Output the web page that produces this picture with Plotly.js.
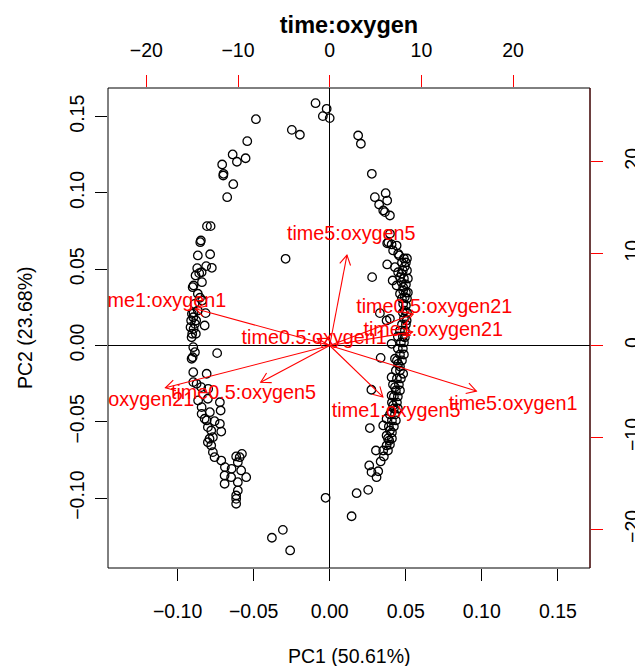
<!DOCTYPE html>
<html><head><meta charset="utf-8">
<script src="https://cdn.plot.ly/plotly-3.0.1.min.js"></script>
<style>html,body{margin:0;padding:0;background:#fff}#plot{width:635px;height:666px}</style>
</head><body><div id="plot"></div>
<script>
// Scores (PC1, PC2)
const pc1 = [
-0.0093,-0.0020,-0.0045,0.0000,-0.0485,-0.0249,-0.0196,-0.0542,-0.0638,-0.0553,-0.0610,-0.0707,-0.0698,-0.0700,-0.0634,-0.0674,-0.0807,-0.0783,-0.0847,-0.0851,-0.0867,-0.0786,-0.0290,-0.0871,-0.0812,-0.0775,-0.0858,-0.0842,-0.0882,-0.0840,-0.0895,-0.0901,-0.0867,-0.0853,-0.0838,-0.0888,-0.0867,-0.0895,-0.0906,-0.0816,-0.0911,-0.0878,-0.0822,-0.0895,-0.0904,
-0.0897,-0.0886,-0.0915,-0.0880,-0.0908,-0.0897,-0.0886,-0.0901,-0.0908,-0.0740,-0.0897,-0.0809,-0.0897,-0.0875,-0.0799,-0.0845,-0.0865,-0.0801,-0.0842,-0.0722,-0.0717,-0.0842,-0.0788,-0.0822,-0.0757,-0.0809,-0.0722,-0.0801,-0.0779,-0.0713,-0.0790,-0.0768,-0.0801,-0.0779,-0.0768,-0.0757,-0.0713,-0.0615,-0.0577,-0.0592,-0.0604,-0.0582,-0.0691,-0.0648,-0.0549,-0.0691,-0.0604,-0.0604,-0.0615,-0.0615,-0.0615,-0.0027,-0.0308,-0.0380,-0.0260,-0.0689,-0.0645,
0.0187,0.0205,0.0277,0.0297,0.0368,0.0378,0.0325,0.0352,0.0363,0.0396,0.0396,0.0378,0.0407,0.0440,0.0417,0.0450,0.0457,0.0378,0.0429,0.0450,0.0279,0.0462,0.0414,0.0473,0.0440,0.0483,0.0462,0.0330,0.0374,0.0385,0.0473,0.0483,0.0494,0.0483,0.0494,0.0396,0.0506,0.0407,0.0494,0.0335,0.0429,0.0450,0.0407,0.0483,0.0274,0.0429,0.0407,0.0417,0.0407,0.0374,0.0264,0.0352,0.0396,0.0374,0.0391,0.0374,0.0304,0.0352,0.0356,0.0335,0.0260,0.0275,0.0319,0.0308,0.0253,0.0177,0.0144,
0.0488,0.0508,0.0475,0.0501,0.0494,0.0481,0.0508,0.0488,0.0514,0.0501,0.0501,0.0514,0.0475,0.0508,0.0501,0.0481,0.0508,0.0488,0.0475,0.0501,0.0462,0.0494,0.0448,0.0481,0.0468,0.0488,0.0448,0.0481,0.0462,0.0488,0.0442,0.0475,0.0462,0.0435,0.0462,0.0442,0.0468,0.0416,0.0455,0.0435,0.0462,0.0422,0.0448,0.0409,0.0442,0.0422,0.0448,0.0396,0.0429,0.0409,0.0435,0.0389,0.0422,0.0409,0.0383,0.0409,0.0396,0.0383
];
const pc2 = [
0.1588,0.1551,0.1503,0.1490,0.1483,0.1413,0.1381,0.1339,0.1252,0.1227,0.1204,0.1186,0.1125,0.1114,0.1057,0.0972,0.0782,0.0782,0.0688,0.0677,0.0590,0.0598,0.0568,0.0507,0.0520,0.0509,0.0474,0.0480,0.0459,0.0415,0.0393,0.0382,0.0339,0.0313,0.0295,0.0273,0.0229,0.0214,0.0208,0.0212,0.0164,0.0164,0.0131,0.0109,0.0077,
0.0185,0.0142,0.0120,0.0077,0.0054,-0.0011,-0.0044,-0.0077,-0.0087,-0.0050,-0.0175,-0.0185,-0.0240,-0.0251,-0.0284,-0.0273,-0.0360,-0.0349,-0.0404,-0.0372,-0.0426,-0.0448,-0.0437,-0.0480,-0.0496,-0.0491,-0.0513,-0.0535,-0.0557,-0.0564,-0.0611,-0.0601,-0.0634,-0.0655,-0.0699,-0.0732,-0.0754,-0.0727,-0.0710,-0.0732,-0.0765,-0.0819,-0.0852,-0.0863,-0.0863,-0.0906,-0.0896,-0.0950,-0.0983,-0.1005,-0.1037,-0.0998,-0.1208,-0.1260,-0.1343,-0.0797,-0.0808,
0.1376,0.1322,0.1125,0.0972,0.0998,0.0950,0.0924,0.0885,0.0874,0.0852,0.0732,0.0670,0.0662,0.0655,0.0623,0.0601,0.0590,0.0531,0.0513,0.0480,0.0448,0.0448,0.0426,0.0415,0.0393,0.0360,0.0339,0.0212,0.0164,0.0677,0.0470,0.0382,0.0317,0.0273,0.0229,0.0175,0.0164,0.0011,0.0054,-0.0081,-0.0087,-0.0120,-0.0208,-0.0185,-0.0290,-0.0273,-0.0328,-0.0393,-0.0437,-0.0480,-0.0541,-0.0524,-0.0557,-0.0590,-0.0623,-0.0655,-0.0688,-0.0688,-0.0727,-0.0760,-0.0786,-0.0830,-0.0824,-0.0863,-0.0946,-0.0968,-0.1119,
0.0570,0.0570,0.0544,0.0544,0.0518,0.0492,0.0492,0.0439,0.0439,0.0400,0.0347,0.0347,0.0308,0.0308,0.0262,0.0216,0.0216,0.0177,0.0138,0.0138,0.0098,0.0098,0.0059,0.0059,0.0020,0.0020,-0.0020,-0.0020,-0.0059,-0.0059,-0.0098,-0.0098,-0.0138,-0.0164,-0.0164,-0.0216,-0.0216,-0.0256,-0.0256,-0.0295,-0.0295,-0.0334,-0.0334,-0.0374,-0.0374,-0.0413,-0.0413,-0.0452,-0.0452,-0.0491,-0.0491,-0.0531,-0.0531,-0.0570,-0.0609,-0.0609,-0.0649,-0.0688
];
// Loadings (top/right scale)
const varNames = ["time1:oxygen1","time5:oxygen5","time0.5:oxygen21","time1:oxygen21","time0.5:oxygen1","time0.5:oxygen5","time5:oxygen21","time1:oxygen5","time5:oxygen1"];
const load1 = [-18.3, 2.35, 11.4, 11.3, -1.7, -9.4, -22.4, 7.25, 20.0];
const load2 = [5.0, 12.3, 4.3, 1.85, 0.95, -5.0, -5.75, -7.0, -6.2];
const pcTicks = [-0.10,-0.05,0.00,0.05,0.10,0.15];
const loadTicks = [-20,-10,0,10,20];
const mainTitle = "time:oxygen", xTitle = "PC1 (50.61%)", yTitle = "PC2 (23.68%)";

const W=635, H=666, M={l:108, r:45, t:88, b:98};
const xr=[-0.14576,0.17114], yr=[-0.14581,0.16874], x2r=[-24.18,28.39], y2r=[-24.21,28.02];
const pw=W-M.l-M.r, ph=H-M.t-M.b;
const sx=pw/(x2r[1]-x2r[0]), sy=ph/(y2r[1]-y2r[0]);
const shrink=0.8, headLen=11, headAng=Math.PI/6, textDrop=2.5;
const ax=[], ay=[];
for (let i=0;i<load1.length;i++){
  const tx=load1[i]*shrink, ty=load2[i]*shrink;
  ax.push(0,tx,null); ay.push(0,ty,null);
  const ang=Math.atan2(ty*sy, tx*sx);
  const a1=ang+headAng, a2=ang-headAng;
  ax.push(tx-headLen*Math.cos(a1)/sx, tx, tx-headLen*Math.cos(a2)/sx, null);
  ay.push(ty-headLen*Math.sin(a1)/sy, ty, ty-headLen*Math.sin(a2)/sy, null);
}
const labelY = load2.map(v => v - textDrop/sy);
const FONT="Liberation Sans, Arial, Helvetica, sans-serif";
const FS=19.5;
const traces=[
  {type:'scatter', mode:'markers', x:pc1, y:pc2, xaxis:'x', yaxis:'y', cliponaxis:true,
   marker:{symbol:'circle-open', size:8.5, color:'#000', line:{width:1.3, color:'#000'}}, hoverinfo:'skip'},
  {type:'scatter', mode:'lines', x:ax, y:ay, xaxis:'x2', yaxis:'y2', cliponaxis:true,
   line:{color:'#ff0000', width:1.1}, hoverinfo:'skip'},
  {type:'scatter', mode:'text', x:load1, y:labelY, text:varNames, xaxis:'x2', yaxis:'y2', cliponaxis:true,
   textposition:'middle center', textfont:{family:FONT, size:19.8, color:'#ff0000'}, hoverinfo:'skip'}
];
const baseAx={showgrid:false, ticks:'outside', ticklen:12, tickwidth:1, showline:false, fixedrange:true,
  tickfont:{family:FONT, size:FS, color:'#000'}};
const layout={
  width:W, height:H, margin:M, showlegend:false, paper_bgcolor:'#fff', plot_bgcolor:'#fff',
  font:{family:FONT, size:FS, color:'#000'},
  title:{text:'<b>'+mainTitle+'</b>', font:{family:FONT, size:23.5, color:'#000'}, xref:'paper', x:0.5, xanchor:'center', yref:'container', y:1-25/H, yanchor:'middle'},
  xaxis:Object.assign({}, baseAx, {range:xr, tickvals:pcTicks, tickformat:'.2f', tickcolor:'#000', zeroline:true, zerolinecolor:'#000', zerolinewidth:1, ticklabelstandoff:14}),
  yaxis:Object.assign({}, baseAx, {range:yr, tickvals:pcTicks, tickformat:'.2f', tickangle:-90, tickcolor:'#000', zeroline:true, zerolinecolor:'#000', zerolinewidth:1, ticklabelstandoff:3}),
  xaxis2:Object.assign({}, baseAx, {range:x2r, overlaying:'x', side:'top', tickvals:loadTicks, tickcolor:'#ff0000', zeroline:false, ticklabelstandoff:10}),
  yaxis2:Object.assign({}, baseAx, {range:y2r, overlaying:'y', side:'right', tickvals:loadTicks, tickangle:-90, tickcolor:'#ff0000', zeroline:false, ticklabelstandoff:13}),
  shapes:[
    {type:'rect', xref:'paper', yref:'paper', x0:0, x1:1, y0:0, y1:1, line:{color:'#000', width:1}},
    {type:'line', xref:'paper', yref:'paper', x0:1, x1:1, y0:0, y1:1, line:{color:'#5a0000', width:1}}
  ],
  annotations:[
    {text:xTitle, xref:'paper', yref:'paper', x:0.5, y:0, xanchor:'center', yanchor:'middle', yshift:-88, showarrow:false, font:{family:FONT, size:FS, color:'#000'}},
    {text:yTitle, xref:'paper', yref:'paper', x:0, y:0.5, xanchor:'center', yanchor:'middle', xshift:-83, textangle:-90, showarrow:false, font:{family:FONT, size:FS, color:'#000'}}
  ]
};
Plotly.newPlot('plot', traces, layout, {staticPlot:true, displayModeBar:false});
</script></body></html>
